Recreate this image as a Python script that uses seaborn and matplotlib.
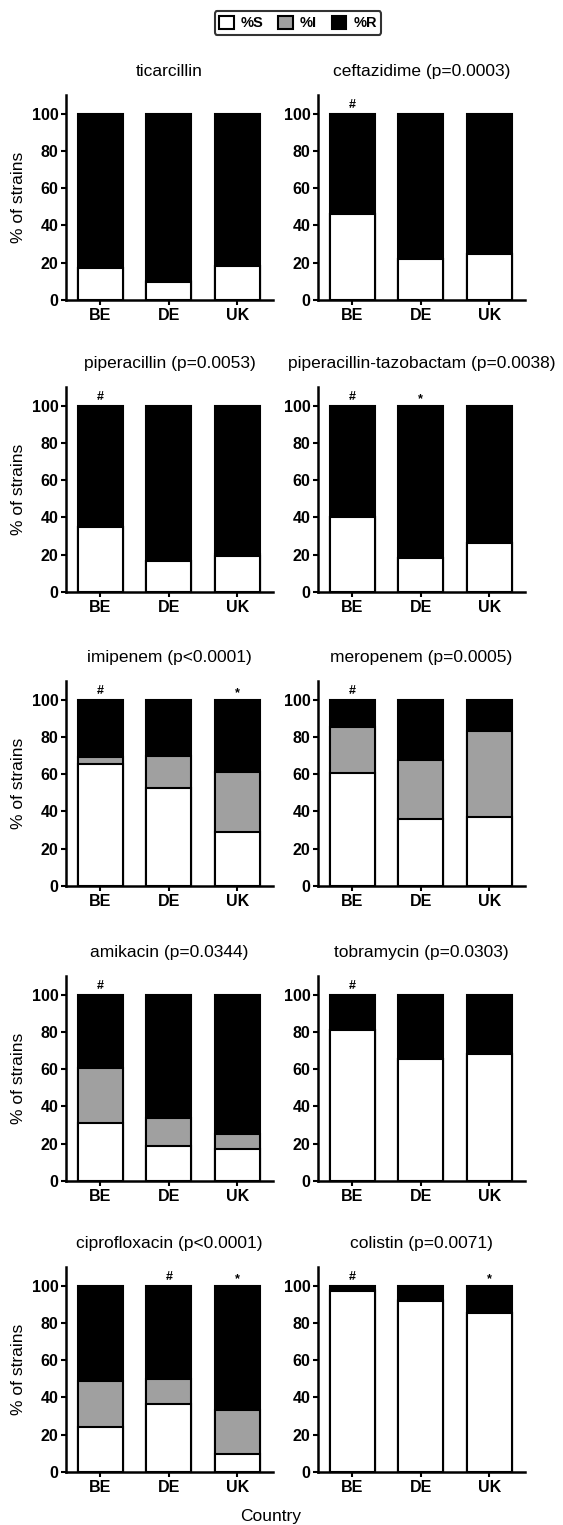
import matplotlib
matplotlib.use("Agg")
import matplotlib.pyplot as plt
from matplotlib.patches import Patch
import seaborn as sns

sns.set_style("ticks")
plt.rcParams["font.family"] = ["Liberation Sans", "DejaVu Sans"]
plt.rcParams["text.color"] = "black"
plt.rcParams["axes.labelcolor"] = "black"
plt.rcParams["xtick.color"] = "black"
plt.rcParams["ytick.color"] = "black"

countries = ["BE", "DE", "UK"]
titles = [
    "ticarcillin", "ceftazidime (p=0.0003)",
    "piperacillin (p=0.0053)", "piperacillin-tazobactam (p=0.0038)",
    "imipenem (p<0.0001)", "meropenem (p=0.0005)",
    "amikacin (p=0.0344)", "tobramycin (p=0.0303)",
    "ciprofloxacin (p<0.0001)", "colistin (p=0.0071)",
]
pct_S = [
    [17, 9.5, 18], [46, 22, 24.5],
    [35, 16.5, 19.5], [40, 18, 26.5],
    [65.5, 52.5, 29], [60.5, 36, 37],
    [31, 19, 17], [81, 65.5, 68],
    [24, 36.5, 9.5], [97, 91.5, 85.5],
]
pct_I = [
    [0, 0.5, 0], [0, 0, 0],
    [0, 0, 1], [0.5, 0, 0],
    [3.5, 17, 32], [25, 31.5, 46],
    [29.5, 15, 8], [0, 0, 0],
    [25, 13.5, 24], [0.5, 1, 0],
]
pct_R = [
    [83, 90, 82], [54, 78, 75.5],
    [65, 83.5, 79.5], [59.5, 82, 73.5],
    [31, 30.5, 39], [14.5, 32.5, 17],
    [39.5, 66, 75], [19, 34.5, 32],
    [51, 50, 66.5], [2.5, 7.5, 14.5],
]
marks = [
    ["", "", ""], ["#", "", ""],
    ["#", "", ""], ["#", "*", ""],
    ["#", "", "*"], ["#", "", ""],
    ["#", "", ""], ["#", "", ""],
    ["", "#", "*"], ["#", "", "*"],
]
yticks = [0, 20, 40, 60, 80, 100]

W, H = 563, 1525
fig = plt.figure(figsize=(W / 100, H / 100), dpi=100)

col_x = [66, 318]
ax_w = 207
ax_h = 205
row_zero = [300, 592, 886, 1181, 1472]

c_S, c_I, c_R = "white", "#a0a0a0", "black"
lw_bar = 1.5

for k in range(10):
    r, c = divmod(k, 2)
    x0 = col_x[c] / W
    y0 = 1 - row_zero[r] / H
    ax = fig.add_axes([x0, y0, ax_w / W, ax_h / H])
    s = pct_S[k]
    si = [a + b for a, b in zip(pct_S[k], pct_I[k])]
    tot = [a + b for a, b in zip(si, pct_R[k])]
    sns.barplot(x=countries, y=tot, color=c_R, width=0.66, edgecolor="black",
                linewidth=lw_bar, saturation=1, ax=ax)
    sns.barplot(x=countries, y=si, color=c_I, width=0.66, edgecolor="black",
                linewidth=lw_bar, saturation=1, ax=ax)
    sns.barplot(x=countries, y=s, color=c_S, width=0.66, edgecolor="black",
                linewidth=lw_bar, saturation=1, ax=ax)
    for i, m in enumerate(marks[k]):
        if m:
            ax.text(i, 104.5 if m == "#" else 103.5, m, ha="center", va="center",
                    fontsize=9, fontweight="bold")
    ax.set_xlim(-0.5, 2.52)
    ax.set_ylim(0, 110)
    ax.set_yticks(yticks)
    ax.set_yticklabels([str(t) for t in yticks])
    ax.set_xlabel("")
    if c == 0:
        ax.set_ylabel("% of strains", fontsize=12.5)
    else:
        ax.set_ylabel("")
    ax.set_title(titles[k], fontsize=12.5, pad=14, color="black")
    for sp in ["top", "right"]:
        ax.spines[sp].set_visible(False)
    for sp in ["left", "bottom"]:
        ax.spines[sp].set_linewidth(1.8)
        ax.spines[sp].set_color("black")
    ax.tick_params(axis="both", length=3.5, width=1.5, colors="black",
                   labelsize=11.5, pad=2)
    for lab in ax.get_xticklabels() + ax.get_yticklabels():
        lab.set_fontweight("bold")

handles = [Patch(facecolor=c_S, edgecolor="black", linewidth=1.5, label="%S"),
           Patch(facecolor=c_I, edgecolor="black", linewidth=1.5, label="%I"),
           Patch(facecolor=c_R, edgecolor="black", linewidth=1.5, label="%R")]
leg = fig.legend(handles=handles, loc="center", bbox_to_anchor=(298 / W, 1 - 23 / H),
                 ncol=3, frameon=True, fancybox=True, handlelength=1.0,
                 handleheight=1.0, handletextpad=0.5, columnspacing=1.0,
                 borderpad=0.3, prop={"weight": "bold", "size": 10.5})
leg.get_frame().set_edgecolor("black")
leg.get_frame().set_linewidth(1.5)

fig.text(271 / W, 1 - 1516 / H, "Country", ha="center", va="center", fontsize=12.5)

fig.savefig("out.png", dpi=100)
